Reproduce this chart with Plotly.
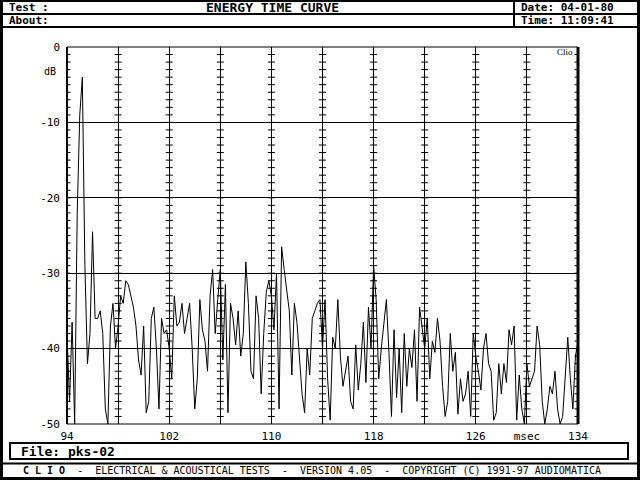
import plotly.graph_objects as go

# ---------------- data ----------------
t_start = 94.0      # msec
t_step = 0.2        # msec between samples
etc_db = [
    -38, -47, -36.5, -50, -22, -9, -4, -29, -42, -38, -24.5, -36, -36, -35, -38, -48, -50, -37, -34, -40, -37, -33, -34, -31,
    -31.5, -33, -34.5, -37, -41.5, -43.5, -37, -48.5, -47, -36, -34.5, -40, -48, -36, -38, -37.5,
    -40, -44, -33, -37, -36.5, -34, -38, -36, -34, -40,
    -48, -44, -33.5, -37.5, -39, -43, -33, -29.5, -38, -33.5,
    -29.5, -41.5, -31.5, -48.5, -34, -36, -39.5, -35, -41, -38,
    -28.5, -34, -43, -44, -33, -36, -46, -38, -32.5, -31,
    -33, -37.5, -30, -48, -26.5, -29.5, -32, -35, -43.5, -34,
    -36.5, -42, -46, -48.5, -40, -43.5, -36, -35, -34, -33.5,
    -40, -33.5, -44, -49.5, -38.5, -40, -33.5, -41, -45, -43,
    -41, -47, -48, -39.5, -45.5, -42, -36.5, -44.5, -34.5, -40,
    -29, -33.5, -44, -40, -37, -33.5, -40.5, -49, -37.5, -46.5,
    -40, -48.5, -38, -45, -40, -42.5, -37.5, -47, -34.5, -37.5,
    -40, -36, -44, -39, -40.5, -36, -39, -45, -49, -47,
    -38, -43, -40.5, -48.7, -44, -47, -46, -43, -49, -38,
    -41, -43, -45.5, -40, -38, -42, -43, -49.5, -48.5, -42,
    -46, -42, -44.5, -37.5, -39.5, -37, -49.5, -43.5, -48, -50,
    -42, -45, -44, -43, -37, -39.5, -47, -50, -48, -45,
    -46, -43, -48, -50, -49, -44, -38.5, -44, -48, -41,
    -39,
]
times = [round(t_start + i * t_step, 3) for i in range(len(etc_db))]

x_tick_vals = [94, 98, 102, 106, 110, 114, 118, 122, 126, 130, 134]
x_tick_text = ["94", "", "102", "", "110", "", "118", "", "126", "msec", "134"]
y_tick_vals = [0, -10, -20, -30, -40, -50]
y_tick_text = ["0", "-10", "-20", "-30", "-40", "-50"]
cross_times = [94, 98, 102, 106, 110, 114, 118, 122, 126, 130, 134]
cross_db = [-k for k in range(1, 50)]

title_text = "ENERGY TIME CURVE"
test_text = "Test :"
about_text = "About:"
date_text = "Date: 04-01-80"
time_text = "Time: 11:09:41"
file_text = "File: pks-02"
footer_text = "<b>C L I O</b>  -  ELECTRICAL &amp; ACOUSTICAL TESTS  -  VERSION 4.05  -  COPYRIGHT (C) 1991-97 AUDIOMATICA"

# ---------------- layout geometry (pixels) ----------------
W, H = 640, 480
L, R, T, B = 67, 578, 47, 424


def px(x):
    return (x - L) / (R - L)


def py(y):
    return (B - y) / (B - T)


MONO = "DejaVu Sans Mono"

fig = go.Figure()

# cross ticks on the vertical grid lines
cx, cy = [], []
for tt in cross_times:
    for d in cross_db:
        cx.append(tt)
        cy.append(d)
fig.add_trace(go.Scatter(
    x=cx, y=cy, mode="markers", hoverinfo="skip",
    marker=dict(symbol="line-ew", size=5, color="black",
                line=dict(width=1, color="black")),
    cliponaxis=True, showlegend=False,
))

fig.add_trace(go.Scatter(
    x=times, y=etc_db, mode="lines",
    line=dict(color="black", width=1),
    showlegend=False,
))

shapes = []
# plot frame
shapes.append(dict(type="line", xref="paper", yref="paper", x0=0, x1=0, y0=0, y1=1,
                   line=dict(color="black", width=2)))
shapes.append(dict(type="line", xref="paper", yref="paper", x0=1, x1=1, y0=0, y1=1,
                   line=dict(color="black", width=3)))
shapes.append(dict(type="line", xref="paper", yref="paper", x0=0, x1=1, y0=1, y1=1,
                   line=dict(color="black", width=1)))
shapes.append(dict(type="line", xref="paper", yref="paper", x0=0, x1=1, y0=0, y1=0,
                   line=dict(color="black", width=1)))
# outer screen border
shapes.append(dict(type="rect", xref="paper", yref="paper",
                   x0=px(1.5), x1=px(638.5), y0=py(478.5), y1=py(0.5),
                   line=dict(color="black", width=3)))
# header
shapes.append(dict(type="line", xref="paper", yref="paper", x0=px(0), x1=px(640),
                   y0=py(14), y1=py(14), line=dict(color="black", width=2)))
shapes.append(dict(type="line", xref="paper", yref="paper", x0=px(0), x1=px(640),
                   y0=py(27), y1=py(27), line=dict(color="black", width=2)))
shapes.append(dict(type="line", xref="paper", yref="paper", x0=px(514), x1=px(514),
                   y0=py(0), y1=py(27), line=dict(color="black", width=2)))
# file box
shapes.append(dict(type="rect", xref="paper", yref="paper",
                   x0=px(10), x1=px(628), y0=py(459), y1=py(443),
                   line=dict(color="black", width=2)))
# footer line
shapes.append(dict(type="line", xref="paper", yref="paper", x0=px(0), x1=px(640),
                   y0=py(463.5), y1=py(463.5), line=dict(color="black", width=2)))

ann = []


def add_text(text, x, y, xanchor="left", size=13, bold=False, family=MONO):
    ann.append(dict(text=("<b>%s</b>" % text) if bold else text,
                    x=px(x), y=py(y), xref="paper", yref="paper",
                    xanchor=xanchor, yanchor="middle", showarrow=False,
                    font=dict(family=family, size=size, color="black")))


add_text(test_text, 7, 7, size=11, bold=True)
add_text(about_text, 7, 20.5, size=11, bold=True)
add_text(title_text, 272, 7, size=13, bold=True)
ann[-1]["xanchor"] = "center"
add_text(date_text, 519, 7, size=11, bold=True)
add_text(time_text, 519, 20.5, size=11, bold=True)
add_text(file_text, 19, 451.5, size=13, bold=True)
add_text(footer_text, 312, 470.5, xanchor="center", size=10)
add_text("dB", 58, 71, xanchor="right", size=10)
add_text("Clio", 575, 52, xanchor="right", size=9, family="Liberation Serif")

fig.update_layout(
    width=W, height=H,
    margin=dict(l=L, r=W - R, t=T, b=H - B, pad=0),
    paper_bgcolor="white", plot_bgcolor="white",
    shapes=shapes, annotations=ann,
    xaxis=dict(range=[94, 134], tickmode="array", tickvals=x_tick_vals, ticktext=x_tick_text,
               showgrid=True, gridcolor="black", gridwidth=1, zeroline=False,
               showline=False, ticks="", ticklabelstandoff=4, fixedrange=True,
               tickfont=dict(family=MONO, size=11, color="black")),
    yaxis=dict(range=[-50, 0], tickmode="array", tickvals=y_tick_vals, ticktext=y_tick_text,
               showgrid=True, gridcolor="black", gridwidth=1, zeroline=False,
               showline=False, ticks="", ticklabelstandoff=6, fixedrange=True,
               tickfont=dict(family=MONO, size=11, color="black")),
    hovermode=False,
)

fig.write_html("out.html", config={"displayModeBar": False},
               post_script="document.body.style.margin='0';document.body.style.overflow='hidden';")
